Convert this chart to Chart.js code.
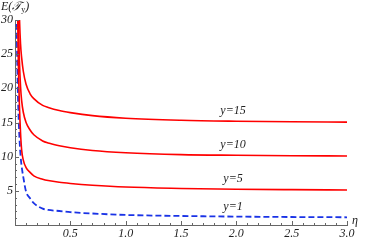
<!DOCTYPE html>
<html>
<head>
<meta charset="utf-8">
<script src="https://cdn.jsdelivr.net/npm/chart.js@4/dist/chart.umd.min.js"></script>
<style>
  html, body { margin: 0; padding: 0; background: #fff; }
  #wrap { width: 366px; height: 241px; }
</style>
</head>
<body>
<div id="wrap"><canvas id="chart"></canvas></div>
<script>
// eta values (x) and E(T_y)
const etaValues = [0.01, 0.015, 0.02, 0.025, 0.03, 0.04, 0.05, 0.06, 0.075, 0.1, 0.136, 0.17, 0.25, 0.3, 0.4, 0.5, 0.7, 1.0, 1.5, 2.0, 2.5, 3.0];
const y15 = [90, 70, 55, 45, 37, 30.5, 26.5, 24.5, 22.5, 20.6, 19.2, 18.5, 17.5, 17.2, 16.75, 16.45, 16.0, 15.62, 15.32, 15.18, 15.1, 15.06];
const y10 = [80, 60, 45, 35, 30, 24, 20.3, 18.2, 16.5, 15.0, 13.9, 13.2, 12.3, 12.0, 11.6, 11.3, 10.9, 10.57, 10.3, 10.2, 10.13, 10.1];
const y5 = [70, 52, 40, 30, 24, 17.5, 13.5, 11, 9.5, 8.4, 7.7, 7.2, 6.7, 6.5, 6.25, 6.08, 5.82, 5.55, 5.35, 5.23, 5.17, 5.13];
const y1 = [40, 30, 24, 20, 17, 12.8, 10.2, 8.6, 7.0, 4.9, 3.9, 3.2, 2.4, 2.2, 2.05, 1.88, 1.68, 1.47, 1.32, 1.23, 1.17, 1.13];

const curveLabels = ['y=15', 'y=10', 'y=5', 'y=1'];
const xTicks = [0.5, 1.0, 1.5, 2.0, 2.5, 3.0];
const yTicks = [5, 10, 15, 20, 25, 30];

const serif = '"Liberation Serif", "DejaVu Serif", serif';
const axisColor = '#666';

function pts(vals) {
  return etaValues.map(function(e, i) { return { x: e, y: vals[i] }; });
}

function lineSet(label, vals, color, dashed) {
  return {
    label: label,
    data: pts(vals),
    borderColor: color,
    borderWidth: dashed ? 1.8 : 1.6,
    borderDash: dashed ? [6, 3] : [],
    pointRadius: 0,
    fill: false,
    cubicInterpolationMode: 'monotone'
  };
}

// inward ticks like mathematica + axis labels + curve labels
const extras = {
  id: 'extras',
  afterDraw: function(chart) {
    const ctx = chart.ctx;
    const xs = chart.scales.x, ys = chart.scales.y;
    const x0 = xs.getPixelForValue(0), yb = ys.getPixelForValue(0);
    ctx.save();
    ctx.strokeStyle = axisColor;
    ctx.lineWidth = 1;
    for (let i = 1; i <= 30; i++) {
      let px = Math.round(xs.getPixelForValue(i / 10)) + 0.5;
      let len = (i % 5 === 0) ? 4 : 2;
      ctx.beginPath(); ctx.moveTo(px, yb); ctx.lineTo(px, yb - len); ctx.stroke();
    }
    for (let j = 1; j <= 30; j++) {
      let py = Math.round(ys.getPixelForValue(j)) + 0.5;
      let len = (j % 5 === 0) ? 4 : 2;
      ctx.beginPath(); ctx.moveTo(x0, py); ctx.lineTo(x0 + len, py); ctx.stroke();
    }

    ctx.fillStyle = '#222';
    ctx.textBaseline = 'middle';
    // y axis title E(T_y)
    ctx.font = 'italic 12px ' + serif;
    ctx.textAlign = 'left';
    let tx = 1;
    ctx.fillText('E(', tx, 7); tx += ctx.measureText('E(').width;
    ctx.fillText('\u{1D4AF}', tx, 7); tx += ctx.measureText('\u{1D4AF}').width;
    ctx.font = '8px ' + serif;
    ctx.fillText('y', tx, 10); tx += ctx.measureText('y').width;
    ctx.font = 'italic 12px ' + serif;
    ctx.fillText(')', tx, 7);
    // x axis title
    ctx.fillText('\u03B7', xs.right + 5, yb - 4);

    // curve labels, above each curve at eta = 2
    const series = [y15, y10, y5, y1];
    const k = etaValues.indexOf(2.0);
    ctx.textAlign = 'center';
    for (let s = 0; s < series.length; s++) {
      ctx.fillText(curveLabels[s], xs.getPixelForValue(1.97), ys.getPixelForValue(series[s][k]) - 10);
    }
    ctx.restore();
  }
};

new Chart(document.getElementById('chart'), {
  type: 'line',
  data: {
    datasets: [
      lineSet('y=15', y15, '#ff0000', false),
      lineSet('y=10', y10, '#ff0000', false),
      lineSet('y=5', y5, '#ff0000', false),
      lineSet('y=1', y1, '#1a33e6', true)
    ]
  },
  options: {
    responsive: true,
    maintainAspectRatio: false,
    animation: false,
    layout: { padding: { top: 20, right: 19, left: 0, bottom: 0 } },
    plugins: { legend: { display: false }, tooltip: { enabled: false } },
    scales: {
      x: {
        type: 'linear',
        min: 0,
        max: 3,
        afterBuildTicks: function(scale) { scale.ticks = xTicks.map(function(v) { return { value: v }; }); },
        afterFit: function(scale) { scale.height = 16; },
        grid: { display: false, drawTicks: false },
        border: { display: true, color: axisColor, width: 1 },
        ticks: {
          autoSkip: false,
          maxRotation: 0,
          padding: 2,
          color: '#222',
          font: { family: serif, size: 12, style: 'italic' },
          callback: function(v) { return v.toFixed(1); }
        }
      },
      y: {
        min: 0,
        max: 30,
        afterBuildTicks: function(scale) { scale.ticks = yTicks.map(function(v) { return { value: v }; }); },
        afterFit: function(scale) { scale.width = 15; },
        grid: { display: false, drawTicks: false },
        border: { display: true, color: axisColor, width: 1 },
        ticks: {
          padding: 2,
          color: '#222',
          font: { family: serif, size: 12, style: 'italic' },
          callback: function(v) { return String(v); }
        }
      }
    }
  },
  plugins: [extras]
});
</script>
</body>
</html>
